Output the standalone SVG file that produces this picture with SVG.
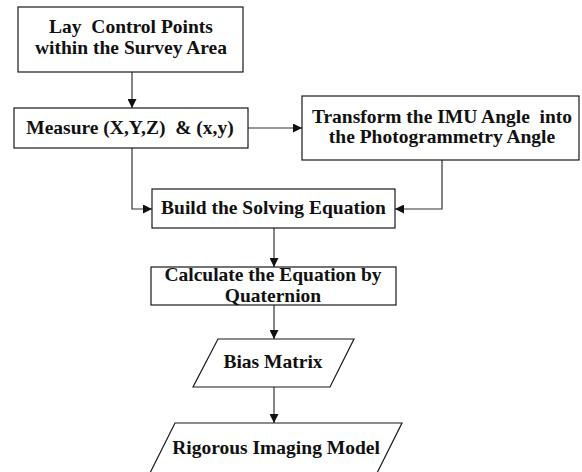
<svg xmlns="http://www.w3.org/2000/svg" width="582" height="472" viewBox="0 0 582 472">
  <style>
    .box { fill: #ffffff; stroke: #1a1a1a; stroke-width: 1.2; }
    .lbl { font-family: 'Liberation Serif', 'Times New Roman', 'DejaVu Serif', serif; font-weight: 700; font-size: 19.5px; fill: #111111; text-anchor: middle; }
    .wire { fill: none; stroke: #333333; stroke-width: 1.2; }
  </style>
  <defs>
    <marker id="arrow" viewBox="0 0 10 10" refX="10" refY="5" markerWidth="9" markerHeight="9" markerUnits="userSpaceOnUse" orient="auto">
      <path d="M0,0 L10,5 L0,10 Z" fill="#111111"/>
    </marker>
  </defs>
  <rect width="582" height="472" fill="#ffffff"/>

  <g id="connectors">
    <path class="wire" d="M132,72 V108" marker-end="url(#arrow)"/>
    <path class="wire" d="M248,128 H302" marker-end="url(#arrow)"/>
    <path class="wire" d="M132,148 V209 H152" marker-end="url(#arrow)"/>
    <path class="wire" d="M442,160 V209 H395" marker-end="url(#arrow)"/>
    <path class="wire" d="M274,228 V267" marker-end="url(#arrow)"/>
    <path class="wire" d="M274,305 V339" marker-end="url(#arrow)"/>
    <path class="wire" d="M274,387 V423" marker-end="url(#arrow)"/>
  </g>

  <g id="lay-control-points">
    <rect class="box" x="18" y="7" width="225" height="65"/>
    <text class="lbl" font-family="Liberation Serif, serif" x="131" y="33" xml:space="preserve">Lay  Control Points</text>
    <text class="lbl" font-family="Liberation Serif, serif" x="131" y="54">within the Survey Area</text>
  </g>

  <g id="measure">
    <rect class="box" x="14" y="108" width="234" height="40"/>
    <text class="lbl" font-family="Liberation Serif, serif" x="130" y="134" xml:space="preserve">Measure (X,Y,Z)  &amp; (x,y)</text>
  </g>

  <g id="transform-angle">
    <rect class="box" x="302" y="96" width="277" height="64"/>
    <text class="lbl" font-family="Liberation Serif, serif" x="442" y="123" xml:space="preserve">Transform the IMU Angle  into</text>
    <text class="lbl" font-family="Liberation Serif, serif" x="442" y="143">the Photogrammetry Angle</text>
  </g>

  <g id="build-equation">
    <rect class="box" x="152" y="189" width="243" height="39"/>
    <text class="lbl" font-family="Liberation Serif, serif" x="273.5" y="214">Build the Solving Equation</text>
  </g>

  <g id="calculate-quaternion">
    <rect class="box" x="151" y="267" width="245" height="38"/>
    <text class="lbl" font-family="Liberation Serif, serif" x="273" y="281">Calculate the Equation by</text>
    <text class="lbl" font-family="Liberation Serif, serif" x="273" y="302">Quaternion</text>
  </g>

  <g id="bias-matrix">
    <polygon class="box" points="218,339 354,339 330,387 193,387"/>
    <text class="lbl" font-family="Liberation Serif, serif" x="273" y="368">Bias Matrix</text>
  </g>

  <g id="rigorous-model">
    <polygon class="box" points="175,423 402,423 376,475 149,475"/>
    <text class="lbl" font-family="Liberation Serif, serif" x="276" y="454">Rigorous Imaging Model</text>
  </g>
</svg>
